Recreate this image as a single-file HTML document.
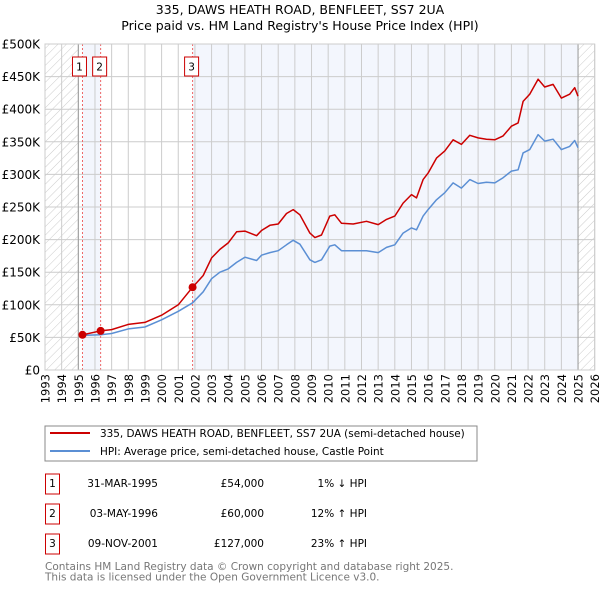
<!DOCTYPE html>
<html><head><meta charset="utf-8"><style>
body{margin:0;background:#fff;width:600px;height:590px;overflow:hidden}
svg{font-family:"DejaVu Sans","Liberation Sans",sans-serif}
</style></head><body>
<svg id="c" width="600" height="590" xmlns="http://www.w3.org/2000/svg">
<defs><pattern id="hatch" width="6" height="6" patternUnits="userSpaceOnUse" patternTransform="rotate(45)"><line x1="0" y1="0" x2="0" y2="6" stroke="#ccc" stroke-width="1"/></pattern></defs>
<text x="300" y="14" text-anchor="middle" font-size="12.5">335, DAWS HEATH ROAD, BENFLEET, SS7 2UA</text>
<text x="300" y="30" text-anchor="middle" font-size="12.5">Price paid vs. HM Land Registry's House Price Index (HPI)</text>
<g id="plot"></g>
<rect x="45" y="426" width="432" height="35" fill="#fff" stroke="#888"/>
<line x1="50" y1="433" x2="90" y2="433" stroke="#cc0000" stroke-width="2"/>
<text x="100" y="437" font-size="10.45">335, DAWS HEATH ROAD, BENFLEET, SS7 2UA (semi-detached house)</text>
<line x1="50" y1="451" x2="90" y2="451" stroke="#5b8fd4" stroke-width="2"/>
<text x="100" y="455" font-size="10.45">HPI: Average price, semi-detached house, Castle Point</text>
<g id="table" font-size="10.5"></g>
<text x="45" y="570" font-size="10.5" fill="#777">Contains HM Land Registry data © Crown copyright and database right 2025.</text>
<text x="45" y="580.5" font-size="10.5" fill="#777">This data is licensed under the Open Government Licence v3.0.</text>
</svg>
<script>
const yearTicks=[1993,1994,1995,1996,1997,1998,1999,2000,2001,2002,2003,2004,2005,2006,2007,2008,2009,2010,2011,2012,2013,2014,2015,2016,2017,2018,2019,2020,2021,2022,2023,2024,2025,2026];
const priceTicks=[0,50000,100000,150000,200000,250000,300000,350000,400000,450000,500000];
const priceTickLabels=["£0","£50K","£100K","£150K","£200K","£250K","£300K","£350K","£400K","£450K","£500K"];
const saleDates=[1995.25,1996.34,2001.86];
const salePrices=[54000,60000,127000];
const saleLabels=["1","2","3"];
const saleDateText=["31-MAR-1995","03-MAY-1996","09-NOV-2001"];
const salePriceText=["£54,000","£60,000","£127,000"];
const saleHpiText=["1% ↓ HPI","12% ↑ HPI","23% ↑ HPI"];
const seriesT=[1995.25,1996.34,1997,1998,1999,2000,2001,2001.86,2002.5,2003,2003.5,2004,2004.5,2005,2005.7,2006,2006.5,2007,2007.5,2007.9,2008.3,2008.9,2009.2,2009.6,2010.1,2010.4,2010.8,2011.5,2012.3,2013,2013.5,2014,2014.5,2015,2015.3,2015.7,2016,2016.5,2017,2017.5,2018,2018.5,2019,2019.5,2020,2020.5,2021,2021.4,2021.7,2022.1,2022.6,2023,2023.5,2024,2024.5,2024.8,2025];
const propertyValues=[54,60,62,70,73,84,100,127,145,172,185,195,212,213,206,214,222,224,240,246,238,210,203,207,236,238,225,224,228,223,231,236,256,269,264,292,302,325,336,353,346,360,356,354,353,359,374,379,412,423,446,434,438,417,423,433,420];
const hpiValues=[53,54,56,63,66,77,90,103,120,140,150,155,165,173,168,176,180,183,192,199,193,169,165,169,190,192,183,183,183,180,188,192,210,218,215,236,246,261,272,287,279,292,286,288,287,295,305,307,333,338,361,351,354,338,343,352,341];
const NS="http://www.w3.org/2000/svg";
const X0=45,X1=594.7,Y0=370,Y1=44;
const xs=t=>X0+(t-1993)/(2026-1993)*(X1-X0);
const ys=v=>Y0-v/500000*(Y0-Y1);
const plot=document.getElementById('plot');
function mk(tag,attrs,parent){const e=document.createElementNS(NS,tag);for(const k in attrs)e.setAttribute(k,attrs[k]);(parent||plot).appendChild(e);return e;}
let e;
e=mk('rect',{x:xs(1993),y:Y1,width:xs(1995)-xs(1993),height:Y0-Y1,fill:'url(#hatch)'});


e=mk('rect',{x:xs(2025),y:Y1,width:X1-xs(2025),height:Y0-Y1,fill:'url(#hatch)'});


e=mk('rect',{x:xs(saleDates[0]),y:Y1,width:xs(saleDates[1])-xs(saleDates[0]),height:Y0-Y1,fill:'#f3f6fd'});


e=mk('rect',{x:xs(saleDates[2]),y:Y1,width:xs(2025)-xs(saleDates[2]),height:Y0-Y1,fill:'#f3f6fd'});


yearTicks.forEach(t=>{
 e=mk('line',{x1:xs(t),x2:xs(t),y1:Y1,y2:Y0,stroke:'#ccc','stroke-width':1});
 
 
 e=mk('text',{x:0,y:0,'font-size':11.5,'text-anchor':'end',transform:`translate(${xs(t)+4.5},374) rotate(-90)`});
 e.textContent=t;
 
 
});
priceTicks.forEach((v,i)=>{
 e=mk('line',{x1:X0,x2:X1,y1:ys(v),y2:ys(v),stroke:'#ccc','stroke-width':1});
 
 
 e=mk('text',{x:40,y:ys(v)+4.5,'font-size':12,'text-anchor':'end'});
 e.textContent=priceTickLabels[i];
 
 
});
e=mk('line',{x1:xs(1995),x2:xs(1995),y1:Y1,y2:Y0,stroke:'#999'});


e=mk('line',{x1:xs(2025),x2:xs(2025),y1:Y1,y2:Y0,stroke:'#999'});


saleDates.forEach((d,i)=>{
 e=mk('line',{x1:xs(d),x2:xs(d),y1:Y1,y2:Y0,stroke:'#e66','stroke-dasharray':'2,2'});
 
 
 const bx=(i===0?xs(d)-10:xs(d)-8);
 e=mk('rect',{x:bx,y:57,width:14,height:19,fill:'#fff',stroke:'#cc0000'});
 
 
 e=mk('text',{x:bx+7,y:70.5,'font-size':10.5,'text-anchor':'middle'});
 e.textContent=saleLabels[i];
 
 
});
function path(vals,color,name){
 const d=seriesT.map((t,i)=>(i?'L':'M')+xs(t).toFixed(1)+','+ys(vals[i]*1000).toFixed(1)).join('');
 const p=mk('path',{d:d,fill:'none',stroke:color,'stroke-width':1.5,'stroke-linejoin':'round'});
 
 
}
path(hpiValues,'#5b8fd4','hpi-line');
path(propertyValues,'#cc0000','property-price-line');
saleDates.forEach((d,i)=>{
 e=mk('circle',{cx:xs(d),cy:ys(salePrices[i]),r:4,fill:'#cc0000'});
 
 
});
e=mk('rect',{x:X0,y:Y1,width:X1-X0,height:Y0-Y1,fill:'none',stroke:'#ccc'});


const tb=document.getElementById('table');
saleDates.forEach((d,i)=>{
 const cy=483+i*30;
 e=mk('rect',{x:45.5,y:cy-9,width:14,height:20,fill:'#fff',stroke:'#cc0000'},tb);
 
 
 e=mk('text',{x:52.5,y:cy+4,'text-anchor':'middle'},tb);e.textContent=saleLabels[i];
 
 
 e=mk('text',{x:158,y:cy+4,'text-anchor':'end'},tb);e.textContent=saleDateText[i];
 
 
 e=mk('text',{x:264,y:cy+4,'text-anchor':'end'},tb);e.textContent=salePriceText[i];
 
 
 e=mk('text',{x:367,y:cy+4,'text-anchor':'end'},tb);e.textContent=saleHpiText[i];
 
 
});
</script>
</body></html>
